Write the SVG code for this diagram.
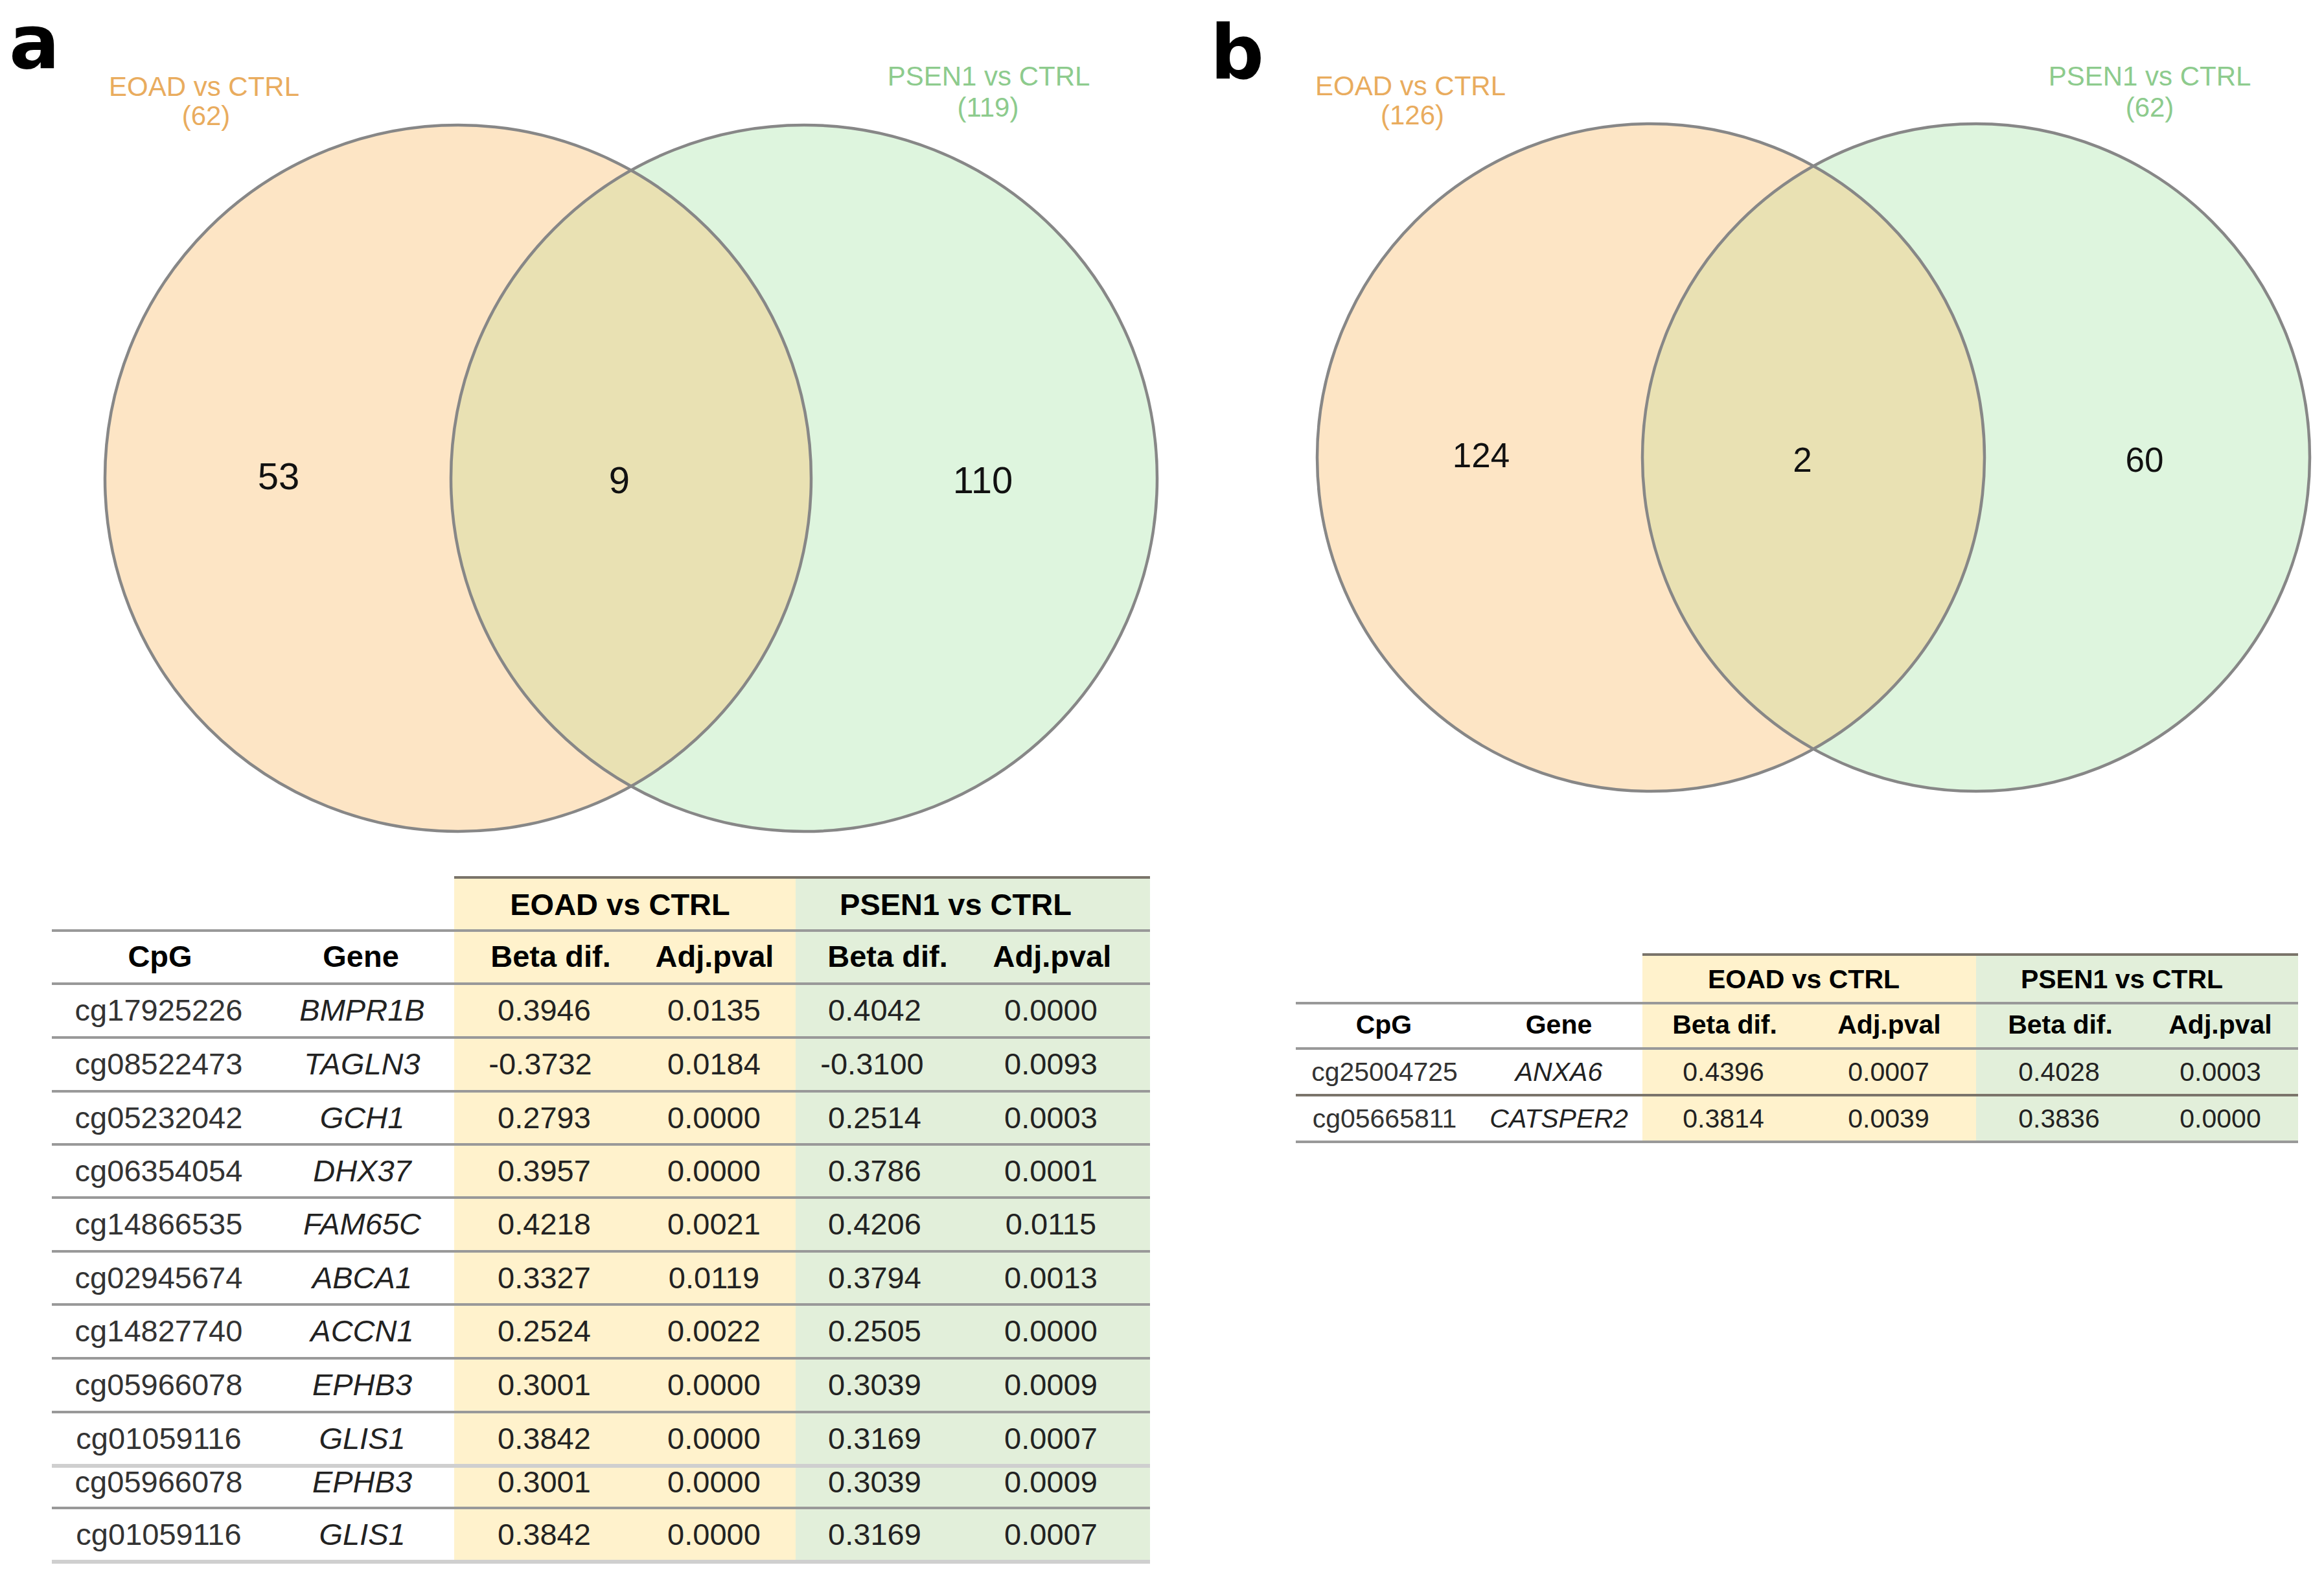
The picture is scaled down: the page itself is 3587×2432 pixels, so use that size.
<svg xmlns="http://www.w3.org/2000/svg" width="3587" height="2432" viewBox="0 0 3587 2432">
<style>
.panel{font-family:"DejaVu Sans","Liberation Sans",sans-serif;font-weight:bold;font-size:116px;fill:#000}
.vlab-o{font-family:"Liberation Sans",Arial,sans-serif;font-size:42px;fill:#E9AC5E;text-anchor:middle}
.vlab-g{font-family:"Liberation Sans",Arial,sans-serif;font-size:42px;fill:#8DCB8D;text-anchor:middle}
.vnum{font-family:"Liberation Sans",Arial,sans-serif;fill:#111;text-anchor:middle}
.circ{stroke:#878787;stroke-width:4.5;fill:none}
.fo{fill:#FDE5C5}
.fg{fill:#DEF5DE}
.fx{fill:#E9E1B3}
.ta text{font-family:"Liberation Sans",Arial,sans-serif;text-anchor:middle}
.sh{font-weight:bold;fill:#000}
.hd{font-weight:bold;fill:#000}
.cpg{fill:#333}
.gene{font-style:italic;fill:#222}
.num{fill:#222}
.ln{stroke:#999;stroke-width:4}
.lnd{stroke:#7a746a;stroke-width:4}
.lnl{stroke:#cfcfcf;stroke-width:6}
.ty{fill:#FFF2CC}
.tg{fill:#E2EFDA}
</style>
<defs>
<clipPath id="clipAR"><circle cx="1241" cy="738" r="545"/></clipPath>
<clipPath id="clipBR"><circle cx="3050" cy="706" r="515"/></clipPath>
</defs>
<rect width="3587" height="2432" fill="#fff"/>

<!-- Panel labels -->
<text class="panel" x="14" y="105">a</text>
<text class="panel" x="1868" y="121">b</text>

<!-- Venn a -->
<g id="venn-a">
  <g id="venn-a-eoad">
    <circle class="fo" cx="707" cy="738" r="545"/>
  </g>
  <g id="venn-a-psen1">
    <circle class="fg" cx="1241" cy="738" r="545"/>
  </g>
  <g id="venn-a-overlap">
    <circle class="fx" cx="707" cy="738" r="545" clip-path="url(#clipAR)"/>
  </g>
  <circle class="circ" cx="707" cy="738" r="545"/>
  <circle class="circ" cx="1241" cy="738" r="545"/>
  <text class="vlab-o" x="315" y="148">EOAD vs CTRL</text>
  <text class="vlab-o" x="318" y="193">(62)</text>
  <text class="vlab-g" x="1526" y="132">PSEN1 vs CTRL</text>
  <text class="vlab-g" x="1525" y="180">(119)</text>
  <text class="vnum" font-size="58" x="430" y="755">53</text>
  <text class="vnum" font-size="58" x="956" y="761">9</text>
  <text class="vnum" font-size="58" x="1517" y="761">110</text>
</g>

<!-- Venn b -->
<g id="venn-b">
  <g id="venn-b-eoad">
    <circle class="fo" cx="2548" cy="706" r="515"/>
  </g>
  <g id="venn-b-psen1">
    <circle class="fg" cx="3050" cy="706" r="515"/>
  </g>
  <g id="venn-b-overlap">
    <circle class="fx" cx="2548" cy="706" r="515" clip-path="url(#clipBR)"/>
  </g>
  <circle class="circ" cx="2548" cy="706" r="515"/>
  <circle class="circ" cx="3050" cy="706" r="515"/>
  <text class="vlab-o" x="2177" y="147">EOAD vs CTRL</text>
  <text class="vlab-o" x="2180" y="192">(126)</text>
  <text class="vlab-g" x="3318" y="132">PSEN1 vs CTRL</text>
  <text class="vlab-g" x="3318" y="180">(62)</text>
  <text class="vnum" font-size="53" x="2286" y="721">124</text>
  <text class="vnum" font-size="53" x="2782" y="728">2</text>
  <text class="vnum" font-size="53" x="3310" y="728">60</text>
</g>

<g id="connectors"></g>

<!-- Table a -->
<g id="table-a" class="ta">
  <rect class="ty" x="701" y="1354" width="527" height="1056"/>
  <rect class="tg" x="1228" y="1354" width="547" height="1056"/>
  <line class="lnd" x1="701" y1="1354" x2="1775" y2="1354"/>
  <line class="ln" x1="80" y1="1436" x2="1775" y2="1436"/>
  <line class="ln" x1="80" y1="1518" x2="1775" y2="1518"/>
  <line class="ln" x1="80" y1="1601" x2="1775" y2="1601"/>
  <line class="ln" x1="80" y1="1684" x2="1775" y2="1684"/>
  <line class="ln" x1="80" y1="1766" x2="1775" y2="1766"/>
  <line class="ln" x1="80" y1="1848" x2="1775" y2="1848"/>
  <line class="ln" x1="80" y1="1931" x2="1775" y2="1931"/>
  <line class="ln" x1="80" y1="2013" x2="1775" y2="2013"/>
  <line class="ln" x1="80" y1="2096" x2="1775" y2="2096"/>
  <line class="ln" x1="80" y1="2179" x2="1775" y2="2179"/>
  <line class="lnl" x1="80" y1="2262" x2="1775" y2="2262"/>
  <line class="ln" x1="80" y1="2327" x2="1775" y2="2327"/>
  <line class="lnl" x1="80" y1="2410" x2="1775" y2="2410"/>

  <g font-size="47">
    <text class="sh" x="957" y="1412">EOAD vs CTRL</text>
    <text class="sh" x="1475" y="1412">PSEN1 vs CTRL</text>
    <text class="hd" x="247" y="1492">CpG</text>
    <text class="hd" x="557" y="1492">Gene</text>
    <text class="hd" x="850" y="1492">Beta dif.</text>
    <text class="hd" x="1103" y="1492">Adj.pval</text>
    <text class="hd" x="1370" y="1492">Beta dif.</text>
    <text class="hd" x="1624" y="1492">Adj.pval</text>
  </g>
  <g font-size="47">
    <g transform="translate(0,1575)">
      <text class="cpg" x="245">cg17925226</text><text class="gene" x="559">BMPR1B</text>
      <text class="num" x="840">0.3946</text><text class="num" x="1102">0.0135</text>
      <text class="num" x="1350">0.4042</text><text class="num" x="1622">0.0000</text>
    </g>
    <g transform="translate(0,1658)">
      <text class="cpg" x="245">cg08522473</text><text class="gene" x="559">TAGLN3</text>
      <text class="num" x="834">-0.3732</text><text class="num" x="1102">0.0184</text>
      <text class="num" x="1346">-0.3100</text><text class="num" x="1622">0.0093</text>
    </g>
    <g transform="translate(0,1741)">
      <text class="cpg" x="245">cg05232042</text><text class="gene" x="559">GCH1</text>
      <text class="num" x="840">0.2793</text><text class="num" x="1102">0.0000</text>
      <text class="num" x="1350">0.2514</text><text class="num" x="1622">0.0003</text>
    </g>
    <g transform="translate(0,1823)">
      <text class="cpg" x="245">cg06354054</text><text class="gene" x="559">DHX37</text>
      <text class="num" x="840">0.3957</text><text class="num" x="1102">0.0000</text>
      <text class="num" x="1350">0.3786</text><text class="num" x="1622">0.0001</text>
    </g>
    <g transform="translate(0,1905)">
      <text class="cpg" x="245">cg14866535</text><text class="gene" x="559">FAM65C</text>
      <text class="num" x="840">0.4218</text><text class="num" x="1102">0.0021</text>
      <text class="num" x="1350">0.4206</text><text class="num" x="1622">0.0115</text>
    </g>
    <g transform="translate(0,1988)">
      <text class="cpg" x="245">cg02945674</text><text class="gene" x="559">ABCA1</text>
      <text class="num" x="840">0.3327</text><text class="num" x="1102">0.0119</text>
      <text class="num" x="1350">0.3794</text><text class="num" x="1622">0.0013</text>
    </g>
    <g transform="translate(0,2070)">
      <text class="cpg" x="245">cg14827740</text><text class="gene" x="559">ACCN1</text>
      <text class="num" x="840">0.2524</text><text class="num" x="1102">0.0022</text>
      <text class="num" x="1350">0.2505</text><text class="num" x="1622">0.0000</text>
    </g>
    <g transform="translate(0,2153)">
      <text class="cpg" x="245">cg05966078</text><text class="gene" x="559">EPHB3</text>
      <text class="num" x="840">0.3001</text><text class="num" x="1102">0.0000</text>
      <text class="num" x="1350">0.3039</text><text class="num" x="1622">0.0009</text>
    </g>
    <g transform="translate(0,2236)">
      <text class="cpg" x="245">cg01059116</text><text class="gene" x="559">GLIS1</text>
      <text class="num" x="840">0.3842</text><text class="num" x="1102">0.0000</text>
      <text class="num" x="1350">0.3169</text><text class="num" x="1622">0.0007</text>
    </g>
    <g transform="translate(0,2303)">
      <text class="cpg" x="245">cg05966078</text><text class="gene" x="559">EPHB3</text>
      <text class="num" x="840">0.3001</text><text class="num" x="1102">0.0000</text>
      <text class="num" x="1350">0.3039</text><text class="num" x="1622">0.0009</text>
    </g>
    <g transform="translate(0,2384)">
      <text class="cpg" x="245">cg01059116</text><text class="gene" x="559">GLIS1</text>
      <text class="num" x="840">0.3842</text><text class="num" x="1102">0.0000</text>
      <text class="num" x="1350">0.3169</text><text class="num" x="1622">0.0007</text>
    </g>
  </g>
</g>

<!-- Table b -->
<g id="table-b" class="ta">
  <rect class="ty" x="2535" y="1473" width="515" height="289"/>
  <rect class="tg" x="3050" y="1473" width="497" height="289"/>
  <line class="lnd" x1="2535" y1="1473" x2="3547" y2="1473"/>
  <line class="ln" x1="2000" y1="1548" x2="3547" y2="1548"/>
  <line class="ln" x1="2000" y1="1618" x2="3547" y2="1618"/>
  <line class="lnd" x1="2000" y1="1690" x2="3547" y2="1690"/>
  <line class="ln" x1="2000" y1="1762" x2="3547" y2="1762"/>
  <g font-size="41">
    <text class="sh" x="2784" y="1525">EOAD vs CTRL</text>
    <text class="sh" x="3275" y="1525">PSEN1 vs CTRL</text>
    <text class="hd" x="2136" y="1595">CpG</text>
    <text class="hd" x="2406" y="1595">Gene</text>
    <text class="hd" x="2662" y="1595">Beta dif.</text>
    <text class="hd" x="2916" y="1595">Adj.pval</text>
    <text class="hd" x="3180" y="1595">Beta dif.</text>
    <text class="hd" x="3427" y="1595">Adj.pval</text>
    <g transform="translate(0,1668)">
      <text class="cpg" x="2137">cg25004725</text><text class="gene" x="2406">ANXA6</text>
      <text class="num" x="2660">0.4396</text><text class="num" x="2915">0.0007</text>
      <text class="num" x="3178">0.4028</text><text class="num" x="3427">0.0003</text>
    </g>
    <g transform="translate(0,1740)">
      <text class="cpg" x="2137">cg05665811</text><text class="gene" x="2406">CATSPER2</text>
      <text class="num" x="2660">0.3814</text><text class="num" x="2915">0.0039</text>
      <text class="num" x="3178">0.3836</text><text class="num" x="3427">0.0000</text>
    </g>
  </g>
</g>
</svg>
